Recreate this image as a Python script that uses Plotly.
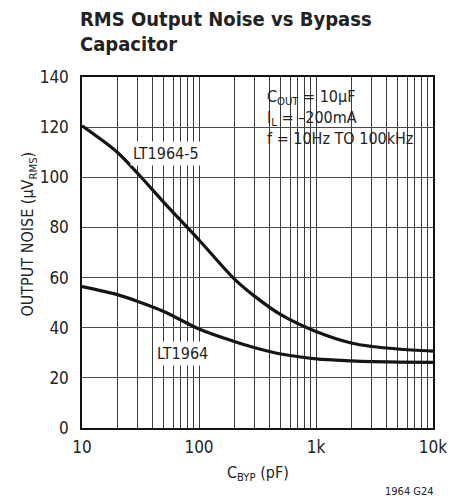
import plotly.graph_objects as go

# ---- data ----
cbyp = [10, 20, 30, 50, 100, 200, 300, 500, 1000, 2000, 3000, 5000, 10000]
noise_lt1964_5 = [120.5, 110, 101.5, 90, 75, 59.5, 52.5, 45.2, 38.5, 33.9, 32.5, 31.5, 30.7]
noise_lt1964 = [56.4, 53.2, 50.5, 46.5, 39.5, 34.5, 32, 29.5, 27.6, 26.8, 26.5, 26.3, 26.2]
x_tick_vals = [10, 100, 1000, 10000]
x_tick_text = ["10", "100", "1k", "10k"]
y_ticks = [0, 20, 40, 60, 80, 100, 120, 140]

FONT = "Liberation Sans Narrow, Arial Narrow, DejaVu Sans Condensed, sans-serif"
TXT = "#222222"

x_minor_vals = [d * m for d in (10, 100, 1000) for m in range(2, 10)]

fig = go.Figure()
for ys in (noise_lt1964_5, noise_lt1964):
    fig.add_trace(go.Scatter(x=cbyp, y=ys, mode="lines",
                             line=dict(color="#151515", width=3.2, shape="spline", smoothing=0.9),
                             showlegend=False, hoverinfo="skip"))

# page is offset by the 8px body margin, so the figure is 8px smaller
fig.update_layout(
    width=454, height=494,
    margin=dict(l=74, r=29, t=69, b=74),
    paper_bgcolor="white", plot_bgcolor="white",
    font=dict(family=FONT, size=17, color=TXT),
)

fig.update_xaxes(
    type="log", range=[1, 4],
    tickmode="array", tickvals=x_tick_vals, ticktext=x_tick_text, tickangle=0,
    showgrid=True, gridcolor="#3a3a3a", gridwidth=1,
    minor=dict(tickmode="array", tickvals=x_minor_vals, showgrid=True,
               gridcolor="#3a3a3a", gridwidth=1, ticks=""),
    showline=True, linecolor="#111111", linewidth=1.5, mirror=True,
    ticks="", zeroline=False, ticklabelstandoff=3,
    tickfont=dict(size=17),
)
fig.update_yaxes(
    range=[0, 140], tickvals=y_ticks,
    showgrid=True, gridcolor="#4a4a4a", gridwidth=1,
    showline=True, linecolor="#111111", linewidth=1.5, mirror=True,
    ticks="", zeroline=False, ticklabelstandoff=8,
    tickfont=dict(size=17),
)

# axis titles
fig.add_annotation(text="C<sub>BYP</sub> (pF)", xref="paper", yref="paper",
                   x=0.501, y=-0.131, xanchor="center", yanchor="middle", showarrow=False,
                   font=dict(size=16, family=FONT, color=TXT))
fig.add_annotation(text="OUTPUT NOISE (µV<sub>RMS</sub>)", xref="paper", yref="paper",
                   x=-0.151, y=0.554, xanchor="center", yanchor="middle", showarrow=False,
                   textangle=-90, font=dict(size=16, family=FONT, color=TXT))

# white box behind the conditions text
fig.add_shape(type="rect", xref="paper", yref="paper",
              x0=0.521, x1=0.971, y0=0.792, y1=0.996,
              fillcolor="white", line=dict(width=0), layer="between")

fig.add_annotation(text="C<sub>OUT</sub> = 10µF<br>I<sub>L</sub> = –200mA<br>f = 10Hz TO 100kHz",
                   xref="paper", yref="paper", x=0.52, y=0.978,
                   xanchor="left", yanchor="top", align="left", showarrow=False,
                   font=dict(size=16, family=FONT, color=TXT))

fig.add_annotation(text="LT1964-5", x=1.715, y=109.5, xref="x", yref="y",
                   showarrow=False, bgcolor="white", borderpad=2,
                   font=dict(size=16, family=FONT, color=TXT))
fig.add_annotation(text="LT1964", x=1.86, y=29.6, xref="x", yref="y",
                   showarrow=False, bgcolor="white", borderpad=2,
                   font=dict(size=16, family=FONT, color=TXT))

# title
fig.add_annotation(text="<b>RMS Output Noise vs Bypass</b>", xref="paper", yref="paper",
                   x=-0.012, y=1.165, xanchor="left", yanchor="middle", showarrow=False,
                   font=dict(size=20, family=FONT, color=TXT))
fig.add_annotation(text="<b>Capacitor</b>", xref="paper", yref="paper",
                   x=-0.012, y=1.094, xanchor="left", yanchor="middle", showarrow=False,
                   font=dict(size=20, family=FONT, color=TXT))

fig.add_annotation(text="1964 G24", xref="paper", yref="paper",
                   x=0.934, y=-0.182, xanchor="center", yanchor="middle", showarrow=False,
                   font=dict(size=11, family=FONT, color=TXT))

fig.write_html("out.html")
